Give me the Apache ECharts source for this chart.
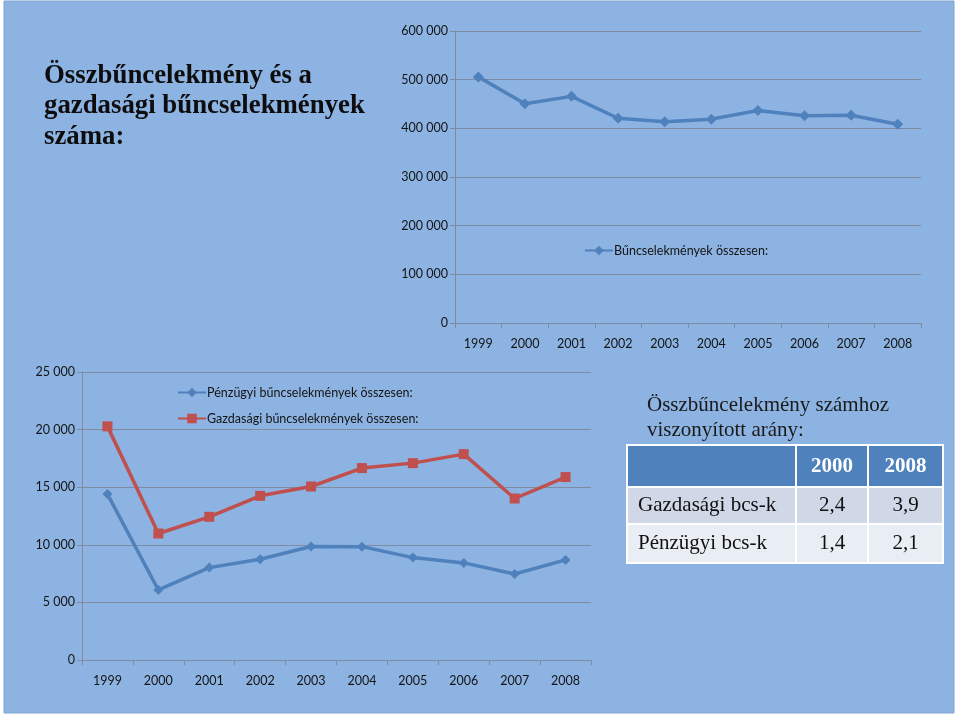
<!DOCTYPE html>
<html>
<head>
<meta charset="utf-8">
<script src="https://cdn.jsdelivr.net/npm/echarts@6/dist/echarts.min.js"></script>
<style>
html,body{margin:0;padding:0;background:#fff;}
#c{width:960px;height:716px;}
</style>
</head>
<body>
<div id="c"></div>
<script>
// ---- data ----
const years = ['1999','2000','2001','2002','2003','2004','2005','2006','2007','2008'];
const totalName = 'Bűncselekmények összesen:';
const totalCrimes = [505716, 450673, 465694, 420782, 413343, 418883, 436522, 425941, 426914, 408407];
const financialName = 'Pénzügyi bűncselekmények összesen:';
const financialCrimes = [14400, 6080, 8020, 8750, 9850, 9840, 8890, 8430, 7470, 8690];
const economicName = 'Gazdasági bűncselekmények összesen:';
const economicCrimes = [20280, 10980, 12430, 14250, 15060, 16660, 17090, 17870, 14020, 15880];
const titleLines = ['Összbűncelekmény és a', 'gazdasági bűncselekmények', 'száma:'];
const tableTitle = ['Összbűncelekmény számhoz', 'viszonyított arány:'];
const tableHeader = ['', '2000', '2008'];
const tableRowLabels = ['Gazdasági bcs-k', 'Pénzügyi bcs-k'];
const tableValues = [['2,4', '3,9'], ['1,4', '2,1']];

const fmt = v => String(v).replace(/\B(?=(\d{3})+(?!\d))/g, ' ');
const LBL = {fontFamily: 'Lato', fontSize: 12.5, color: '#141414'};
const GRIDC = '#7f8ba0';

const chart = echarts.init(document.getElementById('c'), null, {renderer: 'canvas'});

// table graphics
const colX = [627, 796, 868, 943];
const rowY = [445, 487, 524, 563];
const rowFill = ['#4f81bd', '#d0d8e8', '#e9edf4'];
const g = [];
g.push({type: 'rect', z: -10, shape: {x: 4, y: 1, width: 950, height: 712}, style: {fill: '#8db3e2', stroke: '#7fa3cf', lineWidth: 1}, silent: true});
titleLines.forEach((t, i) => g.push({type: 'text', x: 44, y: 76 + i * 30.5, style: {text: t, fill: '#0d0d0d', font: 'bold 26.8px "Liberation Serif"', verticalAlign: 'middle', align: 'left'}}));
tableTitle.forEach((t, i) => g.push({type: 'text', x: 647, y: 405 + i * 25, style: {text: t, fill: '#1a1a1a', font: '21px "Liberation Serif"', verticalAlign: 'middle', align: 'left'}}));
for (let r = 0; r < 3; r++) {
  for (let c = 0; c < 3; c++) {
    g.push({type: 'rect', shape: {x: colX[c], y: rowY[r], width: colX[c + 1] - colX[c], height: rowY[r + 1] - rowY[r]}, style: {fill: rowFill[r], stroke: '#ffffff', lineWidth: 2}});
  }
}
tableHeader.forEach((t, c) => {
  if (!t) return;
  g.push({type: 'text', x: (colX[c] + colX[c + 1]) / 2, y: (rowY[0] + rowY[1]) / 2 + 1, style: {text: t, fill: '#ffffff', font: 'bold 21px "Liberation Serif"', align: 'center', verticalAlign: 'middle'}});
});
tableRowLabels.forEach((t, r) => {
  const cy = (rowY[r + 1] + rowY[r + 2]) / 2;
  g.push({type: 'text', x: 638, y: cy, style: {text: t, fill: '#111', font: '21px "Liberation Serif"', align: 'left', verticalAlign: 'middle'}});
  tableValues[r].forEach((v, c) => g.push({type: 'text', x: (colX[c + 1] + colX[c + 2]) / 2, y: cy, style: {text: v, fill: '#111', font: '21px "Liberation Serif"', align: 'center', verticalAlign: 'middle'}}));
});

function xAx(gi) {
  return {type: 'category', gridIndex: gi, data: years, boundaryGap: true,
    axisLine: {show: true, lineStyle: {color: GRIDC, width: 1}},
    axisTick: {show: true, length: 5, lineStyle: {color: GRIDC}},
    axisLabel: Object.assign({margin: 14}, LBL)};
}
function yAx(gi, max, interval) {
  return {type: 'value', gridIndex: gi, min: 0, max: max, interval: interval,
    axisLine: {show: true, lineStyle: {color: GRIDC, width: 1}},
    axisTick: {show: true, length: 5, lineStyle: {color: GRIDC}},
    splitLine: {show: true, lineStyle: {color: GRIDC, width: 1}},
    axisLabel: Object.assign({margin: 7, formatter: fmt}, LBL)};
}

chart.setOption({
  animation: false,
  backgroundColor: '#ffffff',
  graphic: g,
  grid: [
    {left: 455, top: 31, width: 466, height: 292},
    {left: 82, top: 372, width: 509, height: 288}
  ],
  xAxis: [xAx(0), xAx(1)],
  yAxis: [yAx(0, 600000, 100000), yAx(1, 25000, 5000)],
  legend: [
    {data: [totalName], left: 584, top: 244, padding: 0, itemWidth: 28, itemHeight: 12, itemGap: 10,
      textStyle: {fontFamily: 'Lato', fontSize: 12.5, color: '#141414', padding: [0, 0, 0, -4]}},
    {data: [financialName, economicName], orient: 'vertical', left: 177, top: 386, padding: 0, itemWidth: 28, itemHeight: 12, itemGap: 13,
      textStyle: {fontFamily: 'Lato', fontSize: 12.5, color: '#141414', padding: [0, 0, 0, -4]}}
  ],
  series: [
    {name: totalName, type: 'line', xAxisIndex: 0, yAxisIndex: 0, data: totalCrimes,
      symbol: 'diamond', symbolSize: 11, lineStyle: {color: '#4f81bd', width: 3.5}, itemStyle: {color: '#4f81bd'}},
    {name: financialName, type: 'line', xAxisIndex: 1, yAxisIndex: 1, data: financialCrimes,
      symbol: 'diamond', symbolSize: 10, lineStyle: {color: '#4f81bd', width: 3.5}, itemStyle: {color: '#4f81bd'}},
    {name: economicName, type: 'line', xAxisIndex: 1, yAxisIndex: 1, data: economicCrimes,
      symbol: 'rect', symbolSize: 10, lineStyle: {color: '#c0504d', width: 3.5}, itemStyle: {color: '#c0504d'}}
  ]
});
</script>
</body>
</html>
